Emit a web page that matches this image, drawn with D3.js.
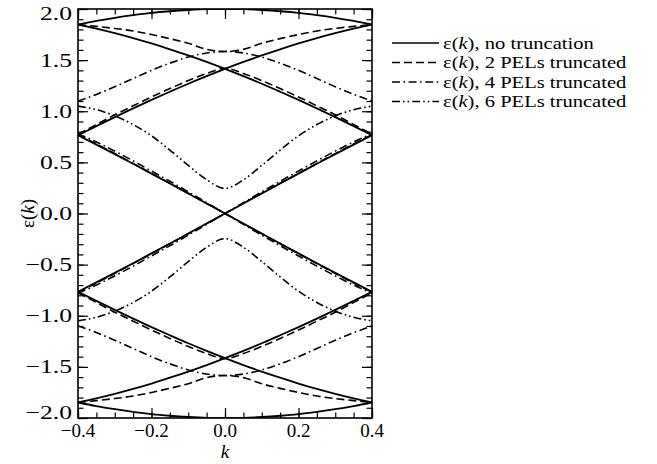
<!DOCTYPE html>
<html>
<head>
<meta charset="utf-8">
<script src="https://cdn.jsdelivr.net/npm/d3@7"></script>
<style>
  html, body { margin: 0; padding: 0; background: #fff; }
  svg { display: block; }
  text { font-family: "Liberation Serif", "Times New Roman", serif; fill: #000; }
</style>
</head>
<body>
<svg id="chart" width="657" height="464"></svg>
<script>
// Wave vector grid shared by every band
const kValues = [-0.4, -0.35, -0.3, -0.25, -0.2, -0.15, -0.1, -0.05, 0,
                 0.05, 0.1, 0.15, 0.2, 0.25, 0.3, 0.35, 0.4];

// ε(k), no truncation: eight folded bands
const noTruncation = [
  [1.848, 1.883, 1.914, 1.940, 1.962, 1.978, 1.990, 1.998, 2.000, 1.998, 1.990, 1.978, 1.962, 1.940, 1.914, 1.883, 1.848],
  [1.848, 1.808, 1.764, 1.716, 1.663, 1.606, 1.546, 1.482, 1.414, 1.343, 1.269, 1.191, 1.111, 1.028, 0.943, 0.855, 0.765],
  [0.765, 0.855, 0.943, 1.028, 1.111, 1.191, 1.269, 1.343, 1.414, 1.482, 1.546, 1.606, 1.663, 1.716, 1.764, 1.808, 1.848],
  [0.765, 0.674, 0.581, 0.486, 0.390, 0.294, 0.196, 0.098, 0.000, -0.098, -0.196, -0.294, -0.390, -0.486, -0.581, -0.674, -0.765],
  [-0.765, -0.674, -0.581, -0.486, -0.390, -0.294, -0.196, -0.098, 0.000, 0.098, 0.196, 0.294, 0.390, 0.486, 0.581, 0.674, 0.765],
  [-0.765, -0.855, -0.943, -1.028, -1.111, -1.191, -1.269, -1.343, -1.414, -1.482, -1.546, -1.606, -1.663, -1.716, -1.764, -1.808, -1.848],
  [-1.848, -1.808, -1.764, -1.716, -1.663, -1.606, -1.546, -1.482, -1.414, -1.343, -1.269, -1.191, -1.111, -1.028, -0.943, -0.855, -0.765],
  [-1.848, -1.883, -1.914, -1.940, -1.962, -1.978, -1.990, -1.998, -2.000, -1.998, -1.990, -1.978, -1.962, -1.940, -1.914, -1.883, -1.848]
];

// ε(k), 2 PELs truncated: six bands
const truncated2 = [
  [1.848, 1.830, 1.810, 1.785, 1.750, 1.710, 1.665, 1.605, 1.585, 1.605, 1.665, 1.710, 1.750, 1.785, 1.810, 1.830, 1.848],
  [0.775, 0.870, 0.965, 1.053, 1.140, 1.222, 1.300, 1.370, 1.420, 1.370, 1.300, 1.222, 1.140, 1.053, 0.965, 0.870, 0.775],
  [0.772, 0.680, 0.586, 0.490, 0.393, 0.296, 0.198, 0.099, 0.000, -0.099, -0.198, -0.296, -0.393, -0.490, -0.586, -0.680, -0.772],
  [-0.772, -0.680, -0.586, -0.490, -0.393, -0.296, -0.198, -0.099, 0.000, 0.099, 0.198, 0.296, 0.393, 0.490, 0.586, 0.680, 0.772],
  [-0.775, -0.870, -0.965, -1.053, -1.140, -1.222, -1.300, -1.370, -1.420, -1.370, -1.300, -1.222, -1.140, -1.053, -0.965, -0.870, -0.775],
  [-1.848, -1.830, -1.810, -1.785, -1.750, -1.710, -1.665, -1.605, -1.585, -1.605, -1.665, -1.710, -1.750, -1.785, -1.810, -1.830, -1.848]
];

// ε(k), 4 PELs truncated: four bands
const truncated4 = [
  [1.100, 1.165, 1.240, 1.320, 1.400, 1.470, 1.530, 1.570, 1.585, 1.570, 1.530, 1.470, 1.400, 1.320, 1.240, 1.165, 1.100],
  [0.780, 0.700, 0.610, 0.515, 0.415, 0.315, 0.212, 0.106, 0.000, -0.106, -0.212, -0.315, -0.415, -0.515, -0.610, -0.700, -0.780],
  [-0.780, -0.700, -0.610, -0.515, -0.415, -0.315, -0.212, -0.106, 0.000, 0.106, 0.212, 0.315, 0.415, 0.515, 0.610, 0.700, 0.780],
  [-1.100, -1.165, -1.240, -1.320, -1.400, -1.470, -1.530, -1.570, -1.585, -1.570, -1.530, -1.470, -1.400, -1.320, -1.240, -1.165, -1.100]
];

// ε(k), 6 PELs truncated: two bands
const truncated6 = [
  [1.050, 1.015, 0.955, 0.870, 0.760, 0.620, 0.470, 0.330, 0.245, 0.330, 0.470, 0.620, 0.760, 0.870, 0.955, 1.015, 1.050],
  [-1.050, -1.015, -0.955, -0.870, -0.760, -0.620, -0.470, -0.330, -0.245, -0.330, -0.470, -0.620, -0.760, -0.870, -0.955, -1.015, -1.050]
];

const seriesNames = ["no truncation", "2 PELs truncated", "4 PELs truncated", "6 PELs truncated"];
const xTickValues = [-0.4, -0.2, 0.0, 0.2, 0.4];
const yTickValues = [-2.0, -1.5, -1.0, -0.5, 0.0, 0.5, 1.0, 1.5, 2.0];

// Line styles for the four series
const dashPatterns = [null, "8,4", "8,3.5,1.6,3.5", "8,3,1.6,3,1.6,3"];

const svg = d3.select("#chart");
const margin = { left: 78, top: 9, right: 285, bottom: 46 };
const W = 657 - margin.left - margin.right;
const H = 464 - margin.top - margin.bottom;

const x = d3.scaleLinear().domain([-0.4, 0.4]).range([0, W]);
const y = d3.scaleLinear().domain([-2, 2]).range([H, 0]);

const g = svg.append("g").attr("transform", `translate(${margin.left},${margin.top})`);

g.append("defs").append("clipPath").attr("id", "plotClip")
  .append("rect").attr("x", 0).attr("y", 0).attr("width", W).attr("height", H);

const line = d3.line()
  .x(d => x(d[0]))
  .y(d => y(d[1]))
  .curve(d3.curveMonotoneX);

const allSeries = [noTruncation, truncated2, truncated4, truncated6];
const plot = g.append("g").attr("clip-path", "url(#plotClip)");

allSeries.forEach((bands, si) => {
  bands.forEach(band => {
    plot.append("path")
      .attr("d", line(band.map((v, i) => [kValues[i], v])))
      .attr("fill", "none")
      .attr("stroke", "#000")
      .attr("stroke-width", si === 0 ? 1.8 : 1.6)
      .attr("stroke-dasharray", dashPatterns[si]);
  });
});

// Minor and major ticks on all four sides, pointing inward
const xMinor = d3.range(-0.4, 0.4001, 0.05);
const yMinor = d3.range(-2, 2.0001, 0.1);

function tickAxis(axisFn, scale, values, size, transform) {
  const a = g.append("g").attr("transform", transform)
    .call(axisFn(scale).tickValues(values).tickSize(size).tickFormat(""));
  a.select(".domain").remove();
  a.selectAll("line").attr("stroke", "#000").attr("stroke-width", 1.2);
}
tickAxis(d3.axisBottom, x, xMinor, -5.5, `translate(0,${H})`);
tickAxis(d3.axisBottom, x, xTickValues, -10, `translate(0,${H})`);
tickAxis(d3.axisTop, x, xMinor, -5.5, "translate(0,0)");
tickAxis(d3.axisTop, x, xTickValues, -10, "translate(0,0)");
tickAxis(d3.axisLeft, y, yMinor, -5.5, "translate(0,0)");
tickAxis(d3.axisLeft, y, yTickValues, -10, "translate(0,0)");
tickAxis(d3.axisRight, y, yMinor, -5.5, `translate(${W},0)`);
tickAxis(d3.axisRight, y, yTickValues, -10, `translate(${W},0)`);

// Frame
g.append("rect").attr("x", 0).attr("y", 0).attr("width", W).attr("height", H)
  .attr("fill", "none").attr("stroke", "#000").attr("stroke-width", 1.6);

const fmt = d3.format(".1f");

// x tick labels
g.selectAll(".xlab").data(xTickValues).enter().append("text")
  .attr("x", d => x(d))
  .attr("y", H + 19)
  .attr("text-anchor", "middle")
  .style("font-size", "19px")
  .text(d => fmt(d));

// y tick labels (wide set; end labels nudged inside the frame height)
g.selectAll(".ylab").data(yTickValues).enter().append("text")
  .attr("transform", d => `translate(-6,${y(d) + 6.5 + (d === 2 ? 4 : d === -2 ? -6 : 0)}) scale(1.35,1)`)
  .attr("text-anchor", "end")
  .style("font-size", "19px")
  .text(d => fmt(d));

// Axis titles
g.append("text")
  .attr("x", x(0)).attr("y", H + 40)
  .attr("text-anchor", "middle")
  .style("font-size", "19px")
  .style("font-style", "italic")
  .text("k");

const yt = svg.append("text")
  .attr("transform", `translate(34,${margin.top + y(0)}) rotate(-90)`)
  .attr("text-anchor", "middle")
  .style("font-size", "19px");
yt.append("tspan").text("ε(");
yt.append("tspan").style("font-style", "italic").text("k");
yt.append("tspan").text(")");

// Legend (wide set type, compact rows)
const legend = svg.append("g").attr("transform", "translate(392,43)");
seriesNames.forEach((name, i) => {
  const row = legend.append("g").attr("transform", `translate(0,${i * 19.5})`);
  row.append("line")
    .attr("x1", 0).attr("x2", 47).attr("y1", 0).attr("y2", 0)
    .attr("stroke", "#000").attr("stroke-width", 1.6)
    .attr("stroke-dasharray", dashPatterns[i]);
  const t = row.append("text")
    .attr("transform", "translate(51,5.5) scale(1.21,1)")
    .style("font-size", "17px");
  t.append("tspan").text("ε(");
  t.append("tspan").style("font-style", "italic").text("k");
  t.append("tspan").text("), " + name);
});
</script>
</body>
</html>
